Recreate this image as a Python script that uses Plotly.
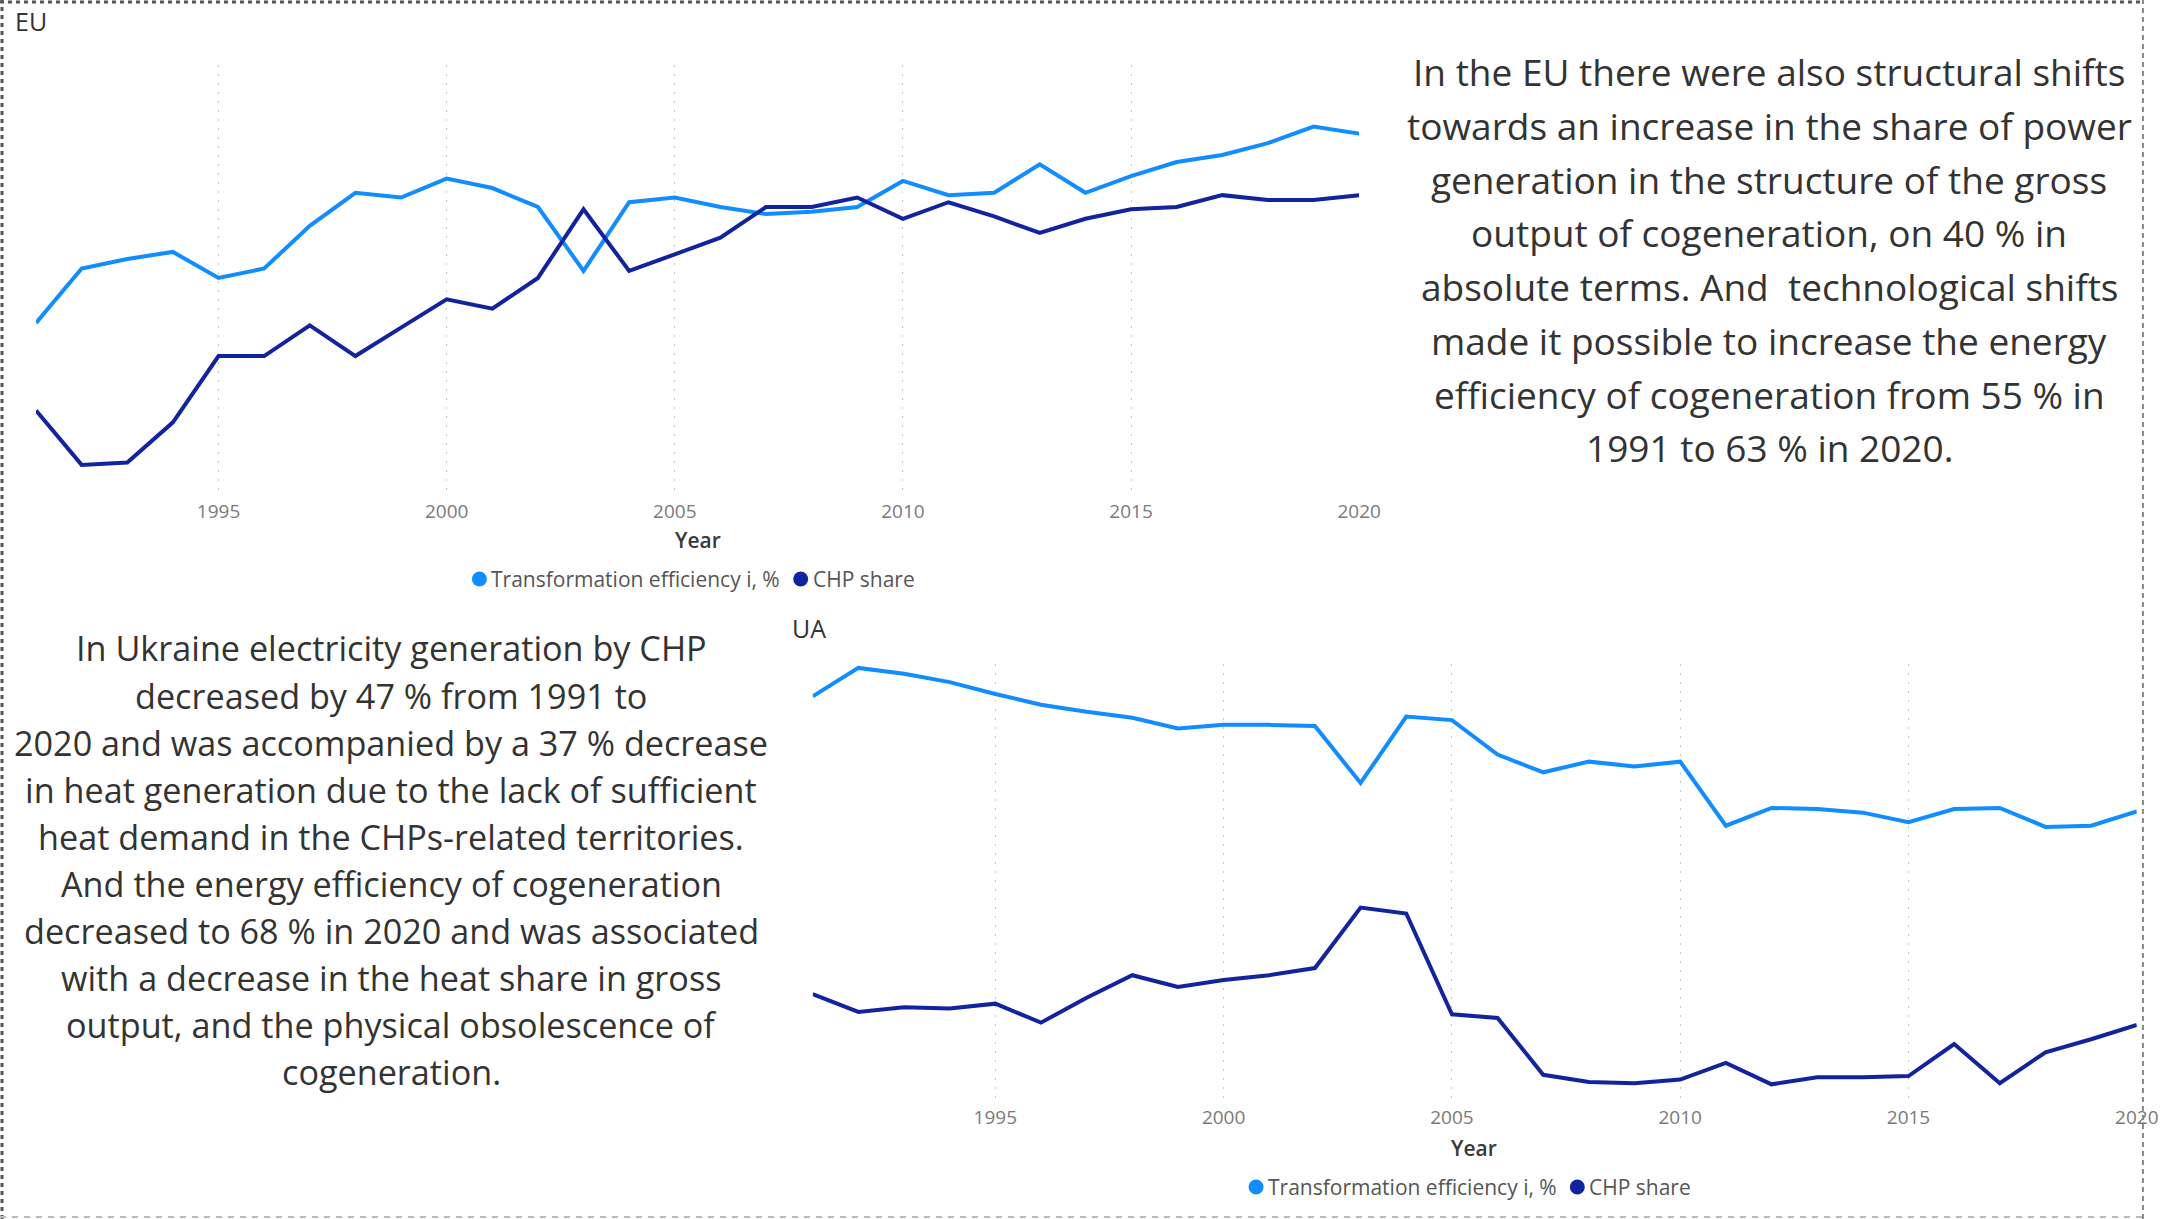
import plotly.graph_objects as go

H = 1219
# effective horizontal pixel span of the paper in the photographed picture
WEFF = 2142.2

years = list(range(1991, 2021))
tick_years = [1995, 2000, 2005, 2010, 2015, 2020]
series_names = ["Transformation efficiency i, %", "CHP share"]
series_colors = ["#118DFF", "#12239E"]

eu_eff = [55.0, 57.3, 57.7, 58.0, 56.9, 57.3, 59.1, 60.5, 60.3, 61.1, 60.7, 59.9, 57.2, 60.1, 60.3,
          59.9, 59.6, 59.7, 59.9, 61.0, 60.4, 60.5, 61.7, 60.5, 61.2, 61.8, 62.1, 62.6, 63.3, 63.0]
eu_chp = [51.3, 49.0, 49.1, 50.8, 53.6, 53.6, 54.9, 53.6, 54.8, 56.0, 55.6, 56.9, 59.8, 57.2, 57.9,
          58.6, 59.9, 59.9, 60.3, 59.4, 60.1, 59.5, 58.8, 59.4, 59.8, 59.9, 60.4, 60.2, 60.2, 60.4]
ua_eff = [77.7, 80.1, 79.6, 78.9, 77.9, 77.0, 76.4, 75.9, 75.0, 75.3, 75.3, 75.2, 70.4, 76.0, 75.7,
          72.8, 71.3, 72.2, 71.8, 72.2, 66.8, 68.3, 68.2, 67.9, 67.1, 68.2, 68.3, 66.7, 66.8, 68.0]
ua_chp = [52.6, 51.1, 51.5, 51.4, 51.8, 50.2, 52.3, 54.2, 53.2, 53.8, 54.2, 54.8, 59.9, 59.4, 50.9,
          50.6, 45.8, 45.2, 45.1, 45.4, 46.8, 45.0, 45.6, 45.6, 45.7, 48.4, 45.1, 47.7, 48.8, 50.0]

eu_text = [
    "In the EU there were also structural shifts",
    "towards an increase in the share of power",
    "generation in the structure of the gross",
    "output of cogeneration, on 40 % in",
    "absolute terms. And  technological shifts",
    "made it possible to increase the energy",
    "efficiency of cogeneration from 55 % in",
    "1991 to 63 % in 2020.",
]
ua_text = [
    "In Ukraine electricity generation by CHP",
    "decreased by 47 % from 1991 to",
    "2020 and was accompanied by a 37 % decrease",
    "in heat generation due to the lack of sufficient",
    "heat demand in the CHPs-related territories.",
    "And the energy efficiency of cogeneration",
    "decreased to 68 % in 2020 and was associated",
    "with a decrease in the heat share in gross",
    "output, and the physical obsolescence of",
    "cogeneration.",
]

FONT = "Open Sans"
TXT = "#333333"

fig = go.Figure()
for vals, name, col in zip([eu_eff, eu_chp], series_names, series_colors):
    fig.add_trace(go.Scatter(x=years, y=vals, name=name, mode="lines",
                             line=dict(color=col, width=4), xaxis="x", yaxis="y",
                             showlegend=False))
for vals, name, col in zip([ua_eff, ua_chp], series_names, series_colors):
    fig.add_trace(go.Scatter(x=years, y=vals, name=name, mode="lines",
                             line=dict(color=col, width=4), xaxis="x2", yaxis="y2",
                             showlegend=False))

def px(x):
    return min(x / WEFF, 0.9995)

def py(y):
    return 1 - y / H

xcommon = dict(range=[1991, 2020], tickvals=tick_years, showgrid=True, griddash="2px,7px",
               gridcolor="#c8c8c8", gridwidth=1, zeroline=False, showline=False, ticks="",
               ticklabelstandoff=4, ticklabeloverflow="allow",
               tickfont=dict(family=FONT, size=19, color="#7a7a7a"))
ycommon = dict(showgrid=False, zeroline=False, showline=False, showticklabels=False)

fig.update_layout(
    width=2166, height=H, margin=dict(l=0, r=0, t=0, b=0),
    paper_bgcolor="white", plot_bgcolor="white",
    font=dict(family=FONT, color=TXT),
    xaxis=dict(domain=[px(36), px(1358)], anchor="y", **xcommon),
    yaxis=dict(domain=[py(494), py(65)], range=[47.77, 65.9], anchor="x", **ycommon),
    xaxis2=dict(domain=[px(812), px(2135)], anchor="y2", **xcommon),
    yaxis2=dict(domain=[py(1100), py(664)], range=[43.68, 80.43], anchor="x2", **ycommon),
)

ann = []
shapes = []
ann.append(dict(text="EU", x=px(13), y=py(21), xref="paper", yref="paper", xanchor="left",
                yanchor="middle", showarrow=False, font=dict(size=25, color=TXT)))
ann.append(dict(text="UA", x=px(789), y=py(628), xref="paper", yref="paper", xanchor="left",
                yanchor="middle", showarrow=False, font=dict(size=25, color=TXT)))
for cx, cy in [(697, 540), (1473, 1148)]:
    ann.append(dict(text="Year", x=px(cx), y=py(cy), xref="paper", yref="paper",
                    xanchor="center", yanchor="middle", showarrow=False,
                    font=dict(size=21, color="#3a3a3a", weight=600)))

# legends: dot + label (x of first dot, y centre), per chart
legend_rows = [(479, 579), (1255, 1187)]
item_offsets = [0, 321]
for lx, ly in legend_rows:
    for off, name, col in zip(item_offsets, series_names, series_colors):
        cx = lx + off
        shapes.append(dict(type="circle", xref="paper", yref="paper",
                           xsizemode="pixel", ysizemode="pixel",
                           xanchor=px(cx), yanchor=py(ly), x0=-7.5, x1=7.5, y0=-7.5, y1=7.5,
                           fillcolor=col, line=dict(width=0)))
        ann.append(dict(text=name, x=px(cx + 10), y=py(ly), xref="paper", yref="paper",
                        xanchor="left", yanchor="middle", showarrow=False,
                        font=dict(size=21, color="#555555")))

for i, line in enumerate(eu_text):
    ann.append(dict(text=line, x=px(1768), y=py(71.8 + i * 53.7), xref="paper", yref="paper",
                    xanchor="center", yanchor="middle", showarrow=False,
                    font=dict(size=37, color=TXT)))
for i, line in enumerate(ua_text):
    ann.append(dict(text=line, x=px(391), y=py(647.9 + i * 47.1), xref="paper", yref="paper",
                    xanchor="center", yanchor="middle", showarrow=False,
                    font=dict(size=34.2, color=TXT)))
fig.update_layout(annotations=ann)

shapes += [
    dict(type="line", xref="paper", yref="paper", x0=0, x1=1, y0=py(2), y1=py(2),
         line=dict(color="#555555", width=3, dash="4px,4px")),
    dict(type="line", xref="paper", yref="paper", x0=px(2), x1=px(2), y0=0, y1=1,
         line=dict(color="#555555", width=3, dash="4px,4px")),
    dict(type="line", xref="paper", yref="paper", x0=px(2164), x1=px(2164), y0=0, y1=1,
         line=dict(color="#888888", width=2, dash="5px,4px")),
    dict(type="line", xref="paper", yref="paper", x0=0, x1=1, y0=py(1217), y1=py(1217),
         line=dict(color="#bbbbbb", width=2, dash="6px,6px")),
]
fig.update_layout(shapes=shapes)

fig.write_html("out.html")
